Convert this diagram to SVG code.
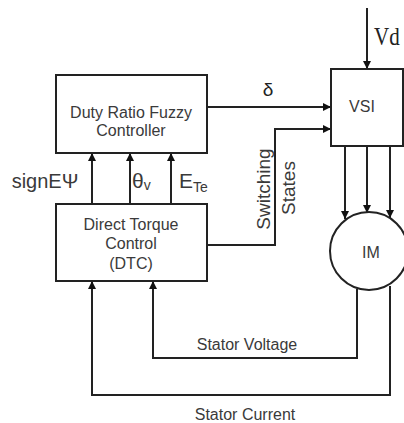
<svg xmlns="http://www.w3.org/2000/svg" width="404" height="423" viewBox="0 0 404 423">
<style>
.box{fill:#fff;stroke:#222;stroke-width:2}
.ln{fill:none;stroke:#222;stroke-width:2}
.t{font-family:"Liberation Sans",Arial,sans-serif;font-size:16px;fill:#3a3a3a;text-anchor:middle}
.s{font-family:"Liberation Serif","Times New Roman",serif;fill:#222}
</style>
<defs>
<marker id="ah" viewBox="0 0 10 10" refX="10" refY="5" markerWidth="4" markerHeight="4" orient="auto" markerUnits="strokeWidth">
<path d="M0,0 L10,5 L0,10 z" fill="#111"/>
</marker>
</defs>
<rect width="404" height="423" fill="#fff"/>
<g id="connectors">
<path class="ln" d="M367,8 V69" marker-end="url(#ah)"/>
<path class="ln" d="M207,107 H331" marker-end="url(#ah)"/>
<path class="ln" d="M207,245 H275 V129 H331" marker-end="url(#ah)"/>
<path class="ln" d="M92,204 V153" marker-end="url(#ah)"/>
<path class="ln" d="M130,204 V153" marker-end="url(#ah)"/>
<path class="ln" d="M171,204 V153" marker-end="url(#ah)"/>
<path class="ln" d="M345,146 V219" marker-end="url(#ah)"/>
<path class="ln" d="M367,146 V213" marker-end="url(#ah)"/>
<path class="ln" d="M390,146 V218" marker-end="url(#ah)"/>
<path class="ln" d="M357,289 V358 H153 V281" marker-end="url(#ah)"/>
<path class="ln" d="M390,286 V395 H92 V281" marker-end="url(#ah)"/>
</g>
<g id="fuzzy">
<rect class="box" x="56" y="75" width="151" height="78"/>
<text class="t" x="131" y="118">Duty Ratio Fuzzy</text>
<text class="t" x="131" y="136">Controller</text>
</g>
<g id="vsi">
<rect class="box" x="331" y="69" width="72" height="77"/>
<text class="t" x="362" y="112">VSI</text>
</g>
<g id="dtc">
<rect class="box" x="56" y="204" width="151" height="77"/>
<text class="t" x="131" y="230">Direct Torque</text>
<text class="t" x="131" y="249">Control</text>
<text class="t" x="131" y="269">(DTC)</text>
</g>
<g id="im">
<circle class="box" cx="369" cy="251" r="39"/>
<text class="t" x="371" y="258">IM</text>
</g>
<g id="labels">
<text class="s" style="font-size:21px" transform="translate(374,45) scale(1,1.2)">Vd</text>
<text class="t" x="268" y="96" style="font-size:19px;fill:#222">δ</text>
<text class="t" x="45" y="188" style="font-size:20px">signEΨ</text>
<text class="t" x="132" y="188" style="font-size:21px;text-anchor:start">θ<tspan style="font-size:14px" dy="2">v</tspan></text>
<text class="t" x="179" y="188" style="font-size:21px;text-anchor:start">E<tspan style="font-size:14px" dy="4">Te</tspan></text>
<text class="t" style="font-size:19px" transform="translate(270,189) rotate(-90)">Switching</text>
<text class="t" style="font-size:19px" transform="translate(295,188) rotate(-90)">States</text>
<text class="t" x="247" y="350">Stator Voltage</text>
<text class="t" x="245" y="420">Stator Current</text>
</g>
</svg>
